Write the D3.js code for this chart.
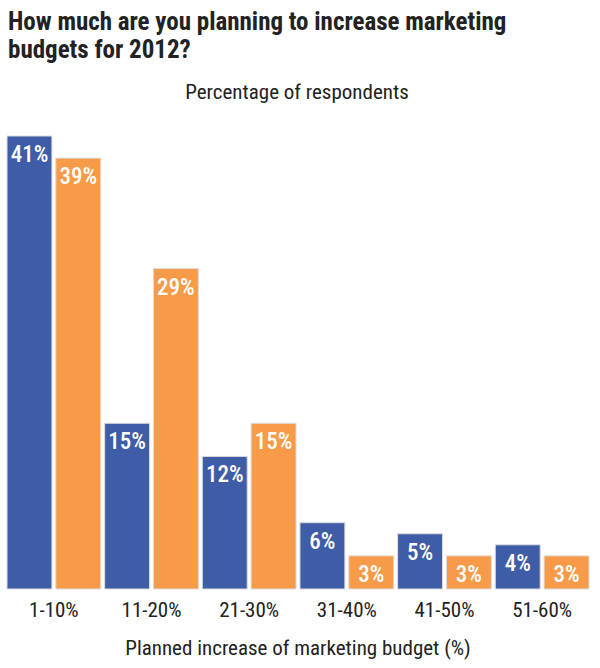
<!DOCTYPE html>
<html><head><meta charset="utf-8">
<script src="https://cdn.jsdelivr.net/npm/d3@7"></script>
<style>
body { margin: 0; background: #fff; }
text { font-family: "Liberation Sans Narrow", "Roboto Condensed", "Roboto", sans-serif; }
</style></head>
<body>
<script>
/* chart data */
const categories = ['1-10%', '11-20%', '21-30%', '31-40%', '41-50%', '51-60%']
const seriesA = [41, 15, 12, 6, 5, 4]
const seriesB = [39, 29, 15, 3, 3, 3]
const colors = ['#3f5ca6', '#f79b48']

const width = 600, height = 668
const svg = d3.select('body').append('svg').attr('width', width).attr('height', height)

/* titles */
svg.append('text').attr('x', 8).attr('y', 30).attr('font-size', 25).attr('font-weight', 'bold')
  .attr('fill', '#222').text('How much are you planning to increase marketing')
svg.append('text').attr('x', 8).attr('y', 58).attr('font-size', 25).attr('font-weight', 'bold')
  .attr('fill', '#222').text('budgets for 2012?')
svg.append('text').attr('x', 297).attr('y', 99).attr('text-anchor', 'middle').attr('font-size', 21)
  .attr('fill', '#222').text('Percentage of respondents')

/* scales */
const x0 = d3.scaleBand().domain(categories).range([7, 589]).paddingInner(0.04).paddingOuter(0)
const x1 = d3.scaleBand().domain([0, 1]).range([0, x0.bandwidth()]).paddingInner(0.08)
const y = d3.scaleLinear().domain([0, 41]).range([589, 136])

const groups = svg.selectAll('.grp').data(categories).join('g')
  .attr('transform', d => `translate(${x0(d)},0)`)

groups.each(function (cat, i) {
  const g = d3.select(this)
  const vals = [seriesA[i], seriesB[i]]
  vals.forEach((v, s) => {
    g.append('rect').attr('x', x1(s)).attr('y', y(v))
      .attr('width', x1.bandwidth()).attr('height', y(0) - y(v))
      .attr('fill', colors[s]).attr('stroke', '#ddd').attr('stroke-width', 1)
    g.append('text').attr('x', x1(s) + x1.bandwidth() / 2).attr('y', y(v) + 26)
      .attr('text-anchor', 'middle').attr('font-size', 23).attr('font-weight', 500).attr('fill', '#fff')
      .text(v + '%')
  })
  g.append('text').attr('x', x0.bandwidth() / 2).attr('y', 617)
    .attr('text-anchor', 'middle').attr('font-size', 21).attr('fill', '#222').text(cat)
})

svg.append('text').attr('x', 298).attr('y', 655).attr('text-anchor', 'middle').attr('font-size', 21)
  .attr('fill', '#222').text('Planned increase of marketing budget (%)')
</script>
</body></html>
